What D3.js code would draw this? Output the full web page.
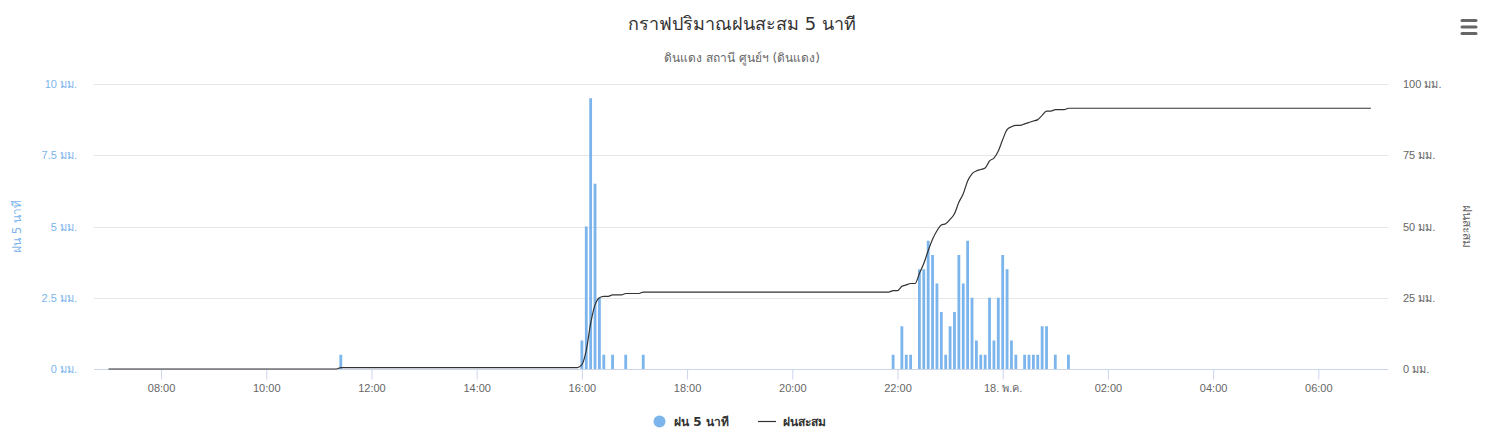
<!DOCTYPE html>
<html>
<head>
<meta charset="utf-8">
<script src="https://cdn.jsdelivr.net/npm/d3@7"></script>
<style>
  html, body { margin: 0; padding: 0; background: #fff; }
  svg { display: block; font-family: "DejaVu Sans", "Lucida Grande", "Lucida Sans Unicode", Arial, Helvetica, sans-serif; }
</style>
</head>
<body>
<svg id="chart" width="1489" height="434"></svg>
<script>
// ---------------- DATA ----------------
const titleText = "กราฟปริมาณฝนสะสม 5 นาที";
const subtitleText = "ดินแดง สถานี ศูนย์ฯ (ดินแดง)";
const seriesNames = ["ฝน 5 นาที", "ฝนสะสม"];
const leftAxisTitle = "ฝน 5 นาที";
const rightAxisTitle = "ฝนสะสม";
const unit = "มม.";

// rain per 5 minutes (bars)
const rainTimes = [
  "2024-05-17 11:25",
  "2024-05-17 16:00", "2024-05-17 16:05", "2024-05-17 16:10", "2024-05-17 16:15", "2024-05-17 16:20",
  "2024-05-17 16:25", "2024-05-17 16:35", "2024-05-17 16:50", "2024-05-17 17:10",
  "2024-05-17 21:55", "2024-05-17 22:05", "2024-05-17 22:10", "2024-05-17 22:15", "2024-05-17 22:25",
  "2024-05-17 22:30", "2024-05-17 22:35", "2024-05-17 22:40", "2024-05-17 22:45", "2024-05-17 22:50",
  "2024-05-17 22:55", "2024-05-17 23:00", "2024-05-17 23:05", "2024-05-17 23:10", "2024-05-17 23:15",
  "2024-05-17 23:20", "2024-05-17 23:25", "2024-05-17 23:30", "2024-05-17 23:35", "2024-05-17 23:40",
  "2024-05-17 23:45", "2024-05-17 23:50", "2024-05-17 23:55", "2024-05-18 00:00", "2024-05-18 00:05",
  "2024-05-18 00:10", "2024-05-18 00:15", "2024-05-18 00:25", "2024-05-18 00:30", "2024-05-18 00:35",
  "2024-05-18 00:40", "2024-05-18 00:45", "2024-05-18 00:50", "2024-05-18 01:00", "2024-05-18 01:15"
];
const rainValues = [
  0.5,
  1, 5, 9.5, 6.5, 2.5,
  0.5, 0.5, 0.5, 0.5,
  0.5, 1.5, 0.5, 0.5, 3.5,
  3.5, 4.5, 4, 3, 2,
  0.5, 1.5, 2, 4, 3,
  4.5, 2.5, 1, 0.5, 0.5,
  2.5, 1, 2.5, 4, 3.5,
  1, 0.5, 0.5, 0.5, 0.5,
  0.5, 1.5, 1.5, 0.5, 0.5
];

// accumulated rain (line)
const accumTimes = [
  "2024-05-17 07:00", "2024-05-17 11:20", "2024-05-17 11:25", "2024-05-17 15:55", "2024-05-17 16:00",
  "2024-05-17 16:05", "2024-05-17 16:10", "2024-05-17 16:15", "2024-05-17 16:20", "2024-05-17 16:25",
  "2024-05-17 16:30", "2024-05-17 16:35", "2024-05-17 16:45", "2024-05-17 16:50", "2024-05-17 17:05",
  "2024-05-17 17:10", "2024-05-17 21:50", "2024-05-17 21:55", "2024-05-17 22:00", "2024-05-17 22:05",
  "2024-05-17 22:10", "2024-05-17 22:15", "2024-05-17 22:20", "2024-05-17 22:25", "2024-05-17 22:30",
  "2024-05-17 22:35", "2024-05-17 22:40", "2024-05-17 22:45", "2024-05-17 22:50", "2024-05-17 22:55",
  "2024-05-17 23:00", "2024-05-17 23:05", "2024-05-17 23:10", "2024-05-17 23:15", "2024-05-17 23:20",
  "2024-05-17 23:25", "2024-05-17 23:30", "2024-05-17 23:35", "2024-05-17 23:40", "2024-05-17 23:45",
  "2024-05-17 23:50", "2024-05-17 23:55", "2024-05-18 00:00", "2024-05-18 00:05", "2024-05-18 00:10",
  "2024-05-18 00:15", "2024-05-18 00:20", "2024-05-18 00:25", "2024-05-18 00:30", "2024-05-18 00:35",
  "2024-05-18 00:40", "2024-05-18 00:45", "2024-05-18 00:50", "2024-05-18 00:55", "2024-05-18 01:00",
  "2024-05-18 01:10", "2024-05-18 01:15", "2024-05-18 07:00"
];
const accumValues = [
  0, 0, 0.5, 0.5, 1.5,
  6.5, 16, 22.5, 25, 25.5,
  25.5, 26, 26, 26.5, 26.5,
  27, 27, 27.5, 27.5, 29,
  29.5, 30, 30, 33.5, 37,
  41.5, 45.5, 48.5, 50.5, 51,
  52.5, 54.5, 58.5, 61.5, 66,
  68.5, 69.5, 70, 70.5, 73,
  74, 76.5, 80.5, 84, 85,
  85.5, 85.5, 86, 86.5, 87,
  87.5, 89, 90.5, 90.5, 91,
  91, 91.5, 91.5
];

const leftTicks = [0, 2.5, 5, 7.5, 10];
const rightTicks = [0, 25, 50, 75, 100];
const xRange = ["2024-05-17 06:43:30", "2024-05-18 07:19:30"];
const midnightLabel = "18. พ.ค.";

// ---------------- CHART ----------------
const parse = d3.timeParse("%Y-%m-%d %H:%M");
const parseS = d3.timeParse("%Y-%m-%d %H:%M:%S");
const bars = rainTimes.map((t, i) => ({ t: parse(t), v: rainValues[i] }));
const accum = accumTimes.map((t, i) => ({ t: parse(t), v: accumValues[i] }));

const W = 1489, H = 434;
const plot = { left: 94, right: 1388, top: 84, bottom: 369 };
const svg = d3.select("#chart");

const x = d3.scaleTime().domain(xRange.map(parseS)).range([plot.left, plot.right]);
const yL = d3.scaleLinear().domain([0, 10]).range([plot.bottom, plot.top]);
const yR = d3.scaleLinear().domain([0, 100]).range([plot.bottom, plot.top]);

const blue = "#7cb5ec";
const labelFont = "11px";

// title
svg.append("text").attr("x", 742).attr("y", 30).attr("text-anchor", "middle")
  .attr("fill", "#333333").style("font-size", "18px").text(titleText);
svg.append("text").attr("x", 742).attr("y", 62).attr("text-anchor", "middle")
  .attr("fill", "#666666").style("font-size", "12px").text(subtitleText);

// menu icon
const menu = svg.append("g").attr("stroke", "#666666").attr("stroke-width", 3).attr("stroke-linecap", "round");
[20.5, 27, 33.5].forEach(yy => menu.append("line").attr("x1", 1462).attr("x2", 1476).attr("y1", yy).attr("y2", yy));

// grid lines
const grid = svg.append("g");
leftTicks.forEach(v => {
  if (v === 0) return;
  grid.append("line").attr("x1", plot.left).attr("x2", plot.right)
    .attr("y1", Math.round(yL(v)) + 0.5).attr("y2", Math.round(yL(v)) + 0.5)
    .attr("stroke", "#e6e6e6").attr("stroke-width", 1);
});

// left axis
const gL = svg.append("g").attr("transform", `translate(${plot.left - 17},0)`)
  .call(d3.axisLeft(yL).tickValues(leftTicks).tickSize(0).tickPadding(0)
    .tickFormat(d => `${d} ${unit}`));
gL.select(".domain").remove();
gL.selectAll("text").attr("fill", blue).style("font-size", labelFont).attr("dy", "0.32em");

svg.append("text").attr("transform", `translate(21,${(plot.top + plot.bottom) / 2}) rotate(-90)`)
  .attr("text-anchor", "middle").attr("fill", blue).style("font-size", "12px").text(leftAxisTitle);

// right axis
const gR = svg.append("g").attr("transform", `translate(${plot.right + 15},0)`)
  .call(d3.axisRight(yR).tickValues(rightTicks).tickSize(0).tickPadding(0)
    .tickFormat(d => `${d} ${unit}`));
gR.select(".domain").remove();
gR.selectAll("text").attr("fill", "#666666").style("font-size", labelFont).attr("dy", "0.32em");

svg.append("text").attr("transform", `translate(1463,${(plot.top + plot.bottom) / 2}) rotate(90)`)
  .attr("text-anchor", "middle").attr("fill", "#666666").style("font-size", "12px").text(rightAxisTitle);

// x axis
const xTicks = d3.timeHour.every(2).range(parse("2024-05-17 08:00"), parse("2024-05-18 07:00"));
const gX = svg.append("g").attr("transform", `translate(0,${plot.bottom + 0.5})`)
  .call(d3.axisBottom(x).tickValues(xTicks).tickSize(10).tickPadding(5)
    .tickFormat(d => (d.getHours() === 0 ? midnightLabel : d3.timeFormat("%H:%M")(d))));
gX.select(".domain").attr("stroke", "#ccd6eb").attr("d", `M${plot.left},0H${plot.right}`);
gX.selectAll(".tick line").attr("stroke", "#ccd6eb");
gX.selectAll("text").attr("fill", "#666666").style("font-size", labelFont);

// bars
const bw = 2.8;
svg.append("g").selectAll("rect").data(bars).join("rect")
  .attr("x", d => x(d.t) - bw / 2)
  .attr("y", d => yL(d.v))
  .attr("width", bw)
  .attr("height", d => yL(0) - yL(d.v))
  .attr("fill", blue);

// accumulated line
const line = d3.line().x(d => x(d.t)).y(d => yR(d.v)).curve(d3.curveMonotoneX);
svg.append("path").datum(accum).attr("d", line)
  .attr("fill", "none").attr("stroke", "#333333").attr("stroke-width", 1.2);

// legend
const lg = svg.append("g").style("font-size", "12px").style("font-weight", "bold").attr("fill", "#333333");
lg.append("circle").attr("cx", 659.5).attr("cy", 421.5).attr("r", 6).attr("fill", blue);
lg.append("text").attr("x", 674).attr("y", 426).text(seriesNames[0]);
lg.append("line").attr("x1", 758).attr("x2", 776).attr("y1", 421.5).attr("y2", 421.5)
  .attr("stroke", "#333333").attr("stroke-width", 1.2);
lg.append("text").attr("x", 783).attr("y", 426).text(seriesNames[1]);
</script>
</body>
</html>
